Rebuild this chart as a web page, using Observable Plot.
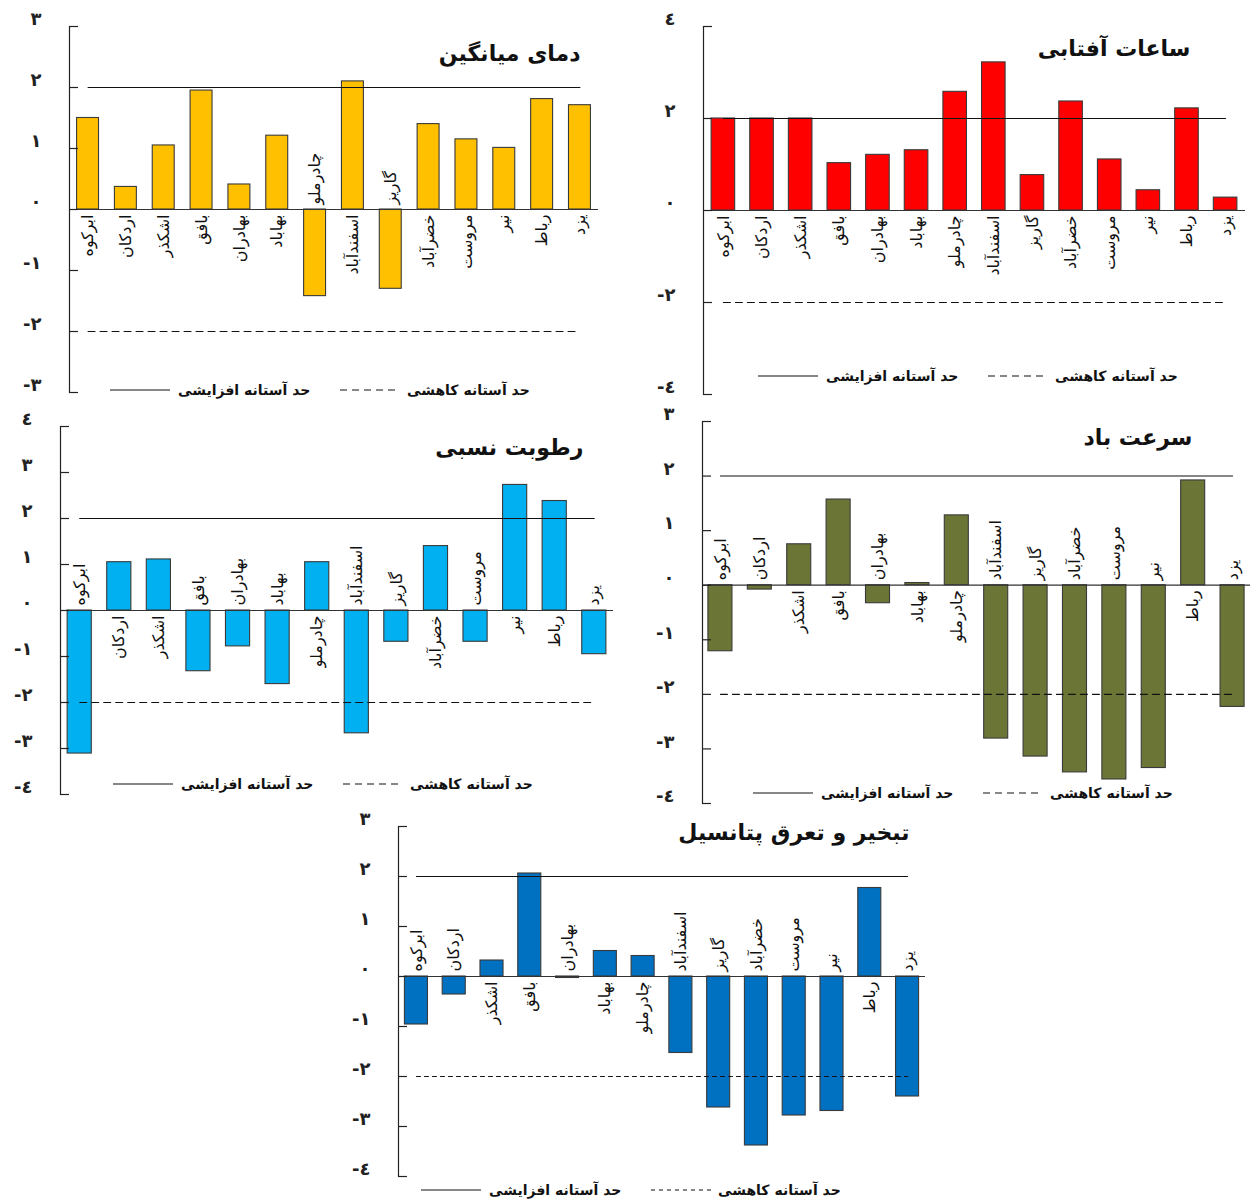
<!DOCTYPE html>
<html lang="fa">
<head>
<meta charset="utf-8">
<script src="https://cdn.jsdelivr.net/npm/d3@7"></script>
<script src="https://cdn.jsdelivr.net/npm/@observablehq/plot@0.6"></script>
<style>
  body { margin: 0; background: #fff; }
  #fig { position: relative; width: 1250px; height: 1203px; overflow: hidden;
         font-family: "DejaVu Sans", "Noto Sans", sans-serif; color: #222; }
  .panel { position: absolute; }
  .panel svg { display: block; max-width: none; }
  .legend-item { position: absolute; height: 20px; line-height: 20px; white-space: nowrap;
                 font-size: 14px; font-weight: bold; color: #111; }
  .legend-line { position: absolute; }
</style>
</head>
<body>
<div id="fig"></div>
<script>
// Stations (x categories), in the order they appear along each axis
const stations = ["ابرکوه", "اردکان", "اشکذر", "بافق", "بهادران", "بهاباد", "چادرملو",
                  "اسفندآباد", "گاریز", "خضرآباد", "مروست", "نیر", "رباط", "یزد"];

// Standardised trend statistic per station, one series per climate variable
const meanTemperature  = [1.50, 0.37, 1.05, 1.95, 0.41, 1.21, -1.42, 2.10, -1.30, 1.40, 1.15, 1.01, 1.81, 1.71];
const sunshineHours    = [2.00, 2.00, 2.00, 1.03, 1.21, 1.31, 2.58, 3.22, 0.77, 2.37, 1.11, 0.44, 2.22, 0.28];
const relativeHumidity = [-3.11, 1.05, 1.11, -1.32, -0.78, -1.60, 1.05, -2.67, -0.68, 1.40, -0.68, 2.73, 2.38, -0.95];
const windSpeed        = [-1.21, -0.08, 0.75, 1.57, -0.33, 0.04, 1.28, -2.81, -3.14, -3.43, -3.56, -3.35, 1.92, -2.23];
const potentialET      = [-0.96, -0.36, 0.32, 2.06, -0.03, 0.51, 0.41, -1.53, -2.62, -3.38, -2.78, -2.69, 1.77, -2.40];

// Significance thresholds
const upperThreshold = 2;
const lowerThreshold = -2;

// Panel titles and legend entries
const titles = ["دمای میانگین", "ساعات آفتابی", "رطوبت نسبی", "سرعت باد", "تبخیر و تعرق پتانسیل"];
const legendLabels = ["حد آستانه افزایشی", "حد آستانه کاهشی"];

// Y tick values per panel
const ticksTemp     = [3, 2, 1, 0, -1, -2, -3];
const ticksSunshine = [4, 2, 0, -2, -4];
const ticksHumidity = [4, 3, 2, 1, 0, -1, -2, -3, -4];
const ticksWind     = [3, 2, 1, 0, -1, -2, -3, -4];
const ticksET       = [3, 2, 1, 0, -1, -2, -3, -4];

// Arabic-Indic digits for tick labels
const indicDigits = ["٠", "١", "٢", "٣", "٤", "٥", "٦", "٧", "٨", "٩"];
const formatTick = v => (v < 0 ? "-" : "") + indicDigits[Math.abs(v)];

const fig = document.getElementById("fig");

function drawPanel(cfg) {
  const rows = stations.map((name, i) => ({name, value: cfg.values[i]}));
  const ends = [stations[0], stations[stations.length - 1]];
  const frameW = cfg.width - cfg.mL - cfg.mR;

  const svg = Plot.plot({
    width: cfg.width,
    height: cfg.height,
    marginLeft: cfg.mL,
    marginRight: cfg.mR,
    marginTop: cfg.mT,
    marginBottom: cfg.mB,
    style: {background: "transparent", fontFamily: "DejaVu Sans, sans-serif", overflow: "visible"},
    x: {domain: stations, paddingInner: cfg.padIn, paddingOuter: cfg.padOut, round: false, axis: null},
    y: {domain: cfg.domain, label: null},
    marks: [
      Plot.barY(rows, {x: "name", y: "value", fill: cfg.color, stroke: "#3a3a3a", strokeWidth: 1.1}),
      Plot.ruleY([0], {stroke: "#333", strokeWidth: 1.2}),
      Plot.lineY(ends, {x: d => d, y: () => upperThreshold, stroke: "#111", strokeWidth: 1.1}),
      Plot.lineY(ends, {x: d => d, y: () => lowerThreshold, stroke: "#111", strokeWidth: 1.1,
                        strokeDasharray: cfg.dash}),
      Plot.frame({anchor: "left", stroke: "#222", strokeWidth: 1.2}),
      Plot.tickY(cfg.ticks, {y: d => d, insetRight: frameW - 9, stroke: "#222", strokeWidth: 1.2}),
      Plot.axisY(cfg.ticks, {anchor: "left", tickSize: 0, tickPadding: 28, dy: -7,
                             tickFormat: formatTick, fontSize: 18, fontWeight: "bold",
                             fill: "#222", label: null}),
      Plot.text(rows.filter(d => d.value >= 0), {x: "name", y: () => 0, text: "name", rotate: -90,
                textAnchor: "end", dy: 5, fontSize: 16, fill: "#111"}),
      Plot.text(rows.filter(d => d.value < 0), {x: "name", y: () => 0, text: "name", rotate: -90,
                textAnchor: "start", dy: -5, fontSize: 16, fill: "#111"}),
      Plot.text([cfg.title], {frameAnchor: "top-right", text: d => d, textAnchor: "end",
                lineAnchor: "middle", dx: cfg.titleDx, dy: cfg.titleDy,
                fontSize: 22, fontWeight: "bold", fill: "#111"})
    ]
  });

  const holder = document.createElement("div");
  holder.className = "panel";
  holder.style.left = cfg.left + "px";
  holder.style.top = cfg.top + "px";
  holder.style.width = cfg.width + "px";
  holder.style.height = cfg.height + "px";
  holder.appendChild(svg);
  fig.appendChild(holder);

  // Legend: solid line for the upper threshold, dashed for the lower one
  const [lx, ly] = cfg.legend;
  const items = [
    {line: lx, text: lx + 68, dash: null, label: legendLabels[0]},
    {line: lx + 230, text: lx + 297, dash: cfg.dash, label: legendLabels[1]}
  ];
  for (const it of items) {
    const ns = "http://www.w3.org/2000/svg";
    const s = document.createElementNS(ns, "svg");
    s.setAttribute("width", 60);
    s.setAttribute("height", 4);
    s.setAttribute("class", "legend-line");
    s.style.left = it.line + "px";
    s.style.top = (ly - 2) + "px";
    const l = document.createElementNS(ns, "line");
    l.setAttribute("x1", 0); l.setAttribute("x2", 60);
    l.setAttribute("y1", 2); l.setAttribute("y2", 2);
    l.setAttribute("stroke", "#111");
    l.setAttribute("stroke-width", 1.1);
    if (it.dash) l.setAttribute("stroke-dasharray", it.dash);
    s.appendChild(l);
    fig.appendChild(s);
    const t = document.createElement("div");
    t.className = "legend-item";
    t.style.left = it.text + "px";
    t.style.top = (ly - 10) + "px";
    t.textContent = it.label;
    fig.appendChild(t);
  }
}

drawPanel({values: meanTemperature, title: titles[0], color: "#FFC000", ticks: ticksTemp, domain: [-3, 3],
  left: 0, top: 0, width: 620, height: 405, mL: 69, mR: 22, mT: 26, mB: 13,
  padIn: 0.42, padOut: 0.2, titleDx: -18, titleDy: 27, legend: [110, 390], dash: "7,5"});

drawPanel({values: sunshineHours, title: titles[1], color: "#FF0000", ticks: ticksSunshine, domain: [-4, 4],
  left: 630, top: 0, width: 620, height: 405, mL: 73, mR: 5, mT: 26, mB: 11,
  padIn: 0.39, padOut: 0.21, titleDx: -55, titleDy: 22, legend: [758, 376], dash: "7,5"});

drawPanel({values: relativeHumidity, title: titles[2], color: "#00B0F0", ticks: ticksHumidity, domain: [-4, 4],
  left: 0, top: 405, width: 625, height: 400, mL: 60, mR: 12, mT: 21, mB: 11,
  padIn: 0.39, padOut: 0.18, titleDx: -30, titleDy: 21, legend: [113, 784], dash: "7,5"});

drawPanel({values: windSpeed, title: titles[3], color: "#6B7535", ticks: ticksWind, domain: [-4, 3],
  left: 630, top: 405, width: 620, height: 405, mL: 72, mR: 0, mT: 16, mB: 7,
  padIn: 0.39, padOut: 0.15, titleDx: -58, titleDy: 16, legend: [753, 793], dash: "7,5"});

drawPanel({values: potentialET, title: titles[4], color: "#0070C0", ticks: ticksET, domain: [-4, 3],
  left: 330, top: 800, width: 620, height: 403, mL: 68, mR: 25, mT: 26, mB: 27,
  padIn: 0.39, padOut: 0.17, titleDx: -16, titleDy: 6, legend: [421, 1190], dash: "4,4"});
</script>
</body>
</html>
